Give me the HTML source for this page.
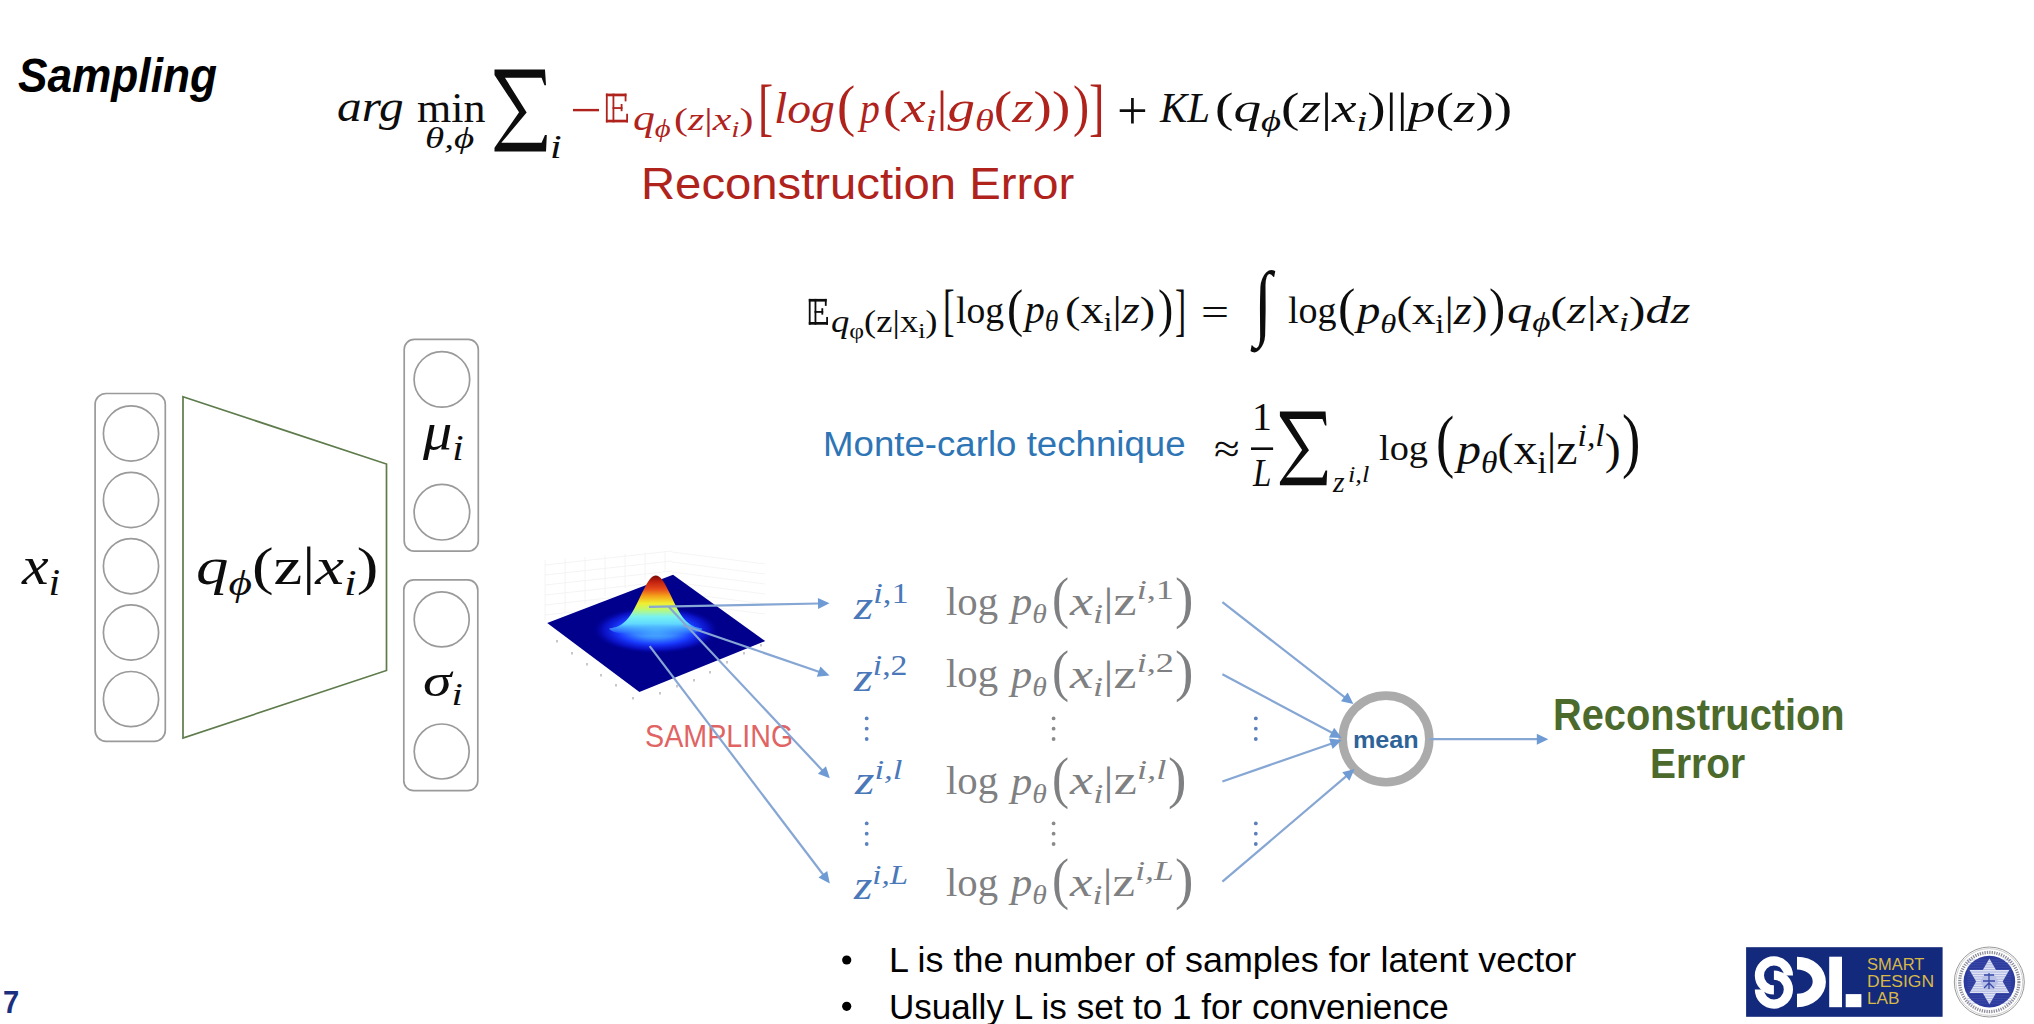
<!DOCTYPE html><html><head><meta charset="utf-8"><title>Sampling</title><style>
html,body{margin:0;padding:0;background:#fff;}
body{width:2034px;height:1024px;position:relative;overflow:hidden;}
.t{position:absolute;white-space:nowrap;line-height:1;transform-origin:0 0;}
.ser{font-family:"Liberation Serif",serif;}
.sans{font-family:"Liberation Sans",sans-serif;}
.b{font-weight:bold;}
.bi{font-weight:bold;font-style:italic;}
.sb{font-size:0.7em;position:relative;top:0.28em;}
.sp{font-size:0.7em;position:relative;top:-0.55em;}
i{font-style:italic;}
.top{z-index:3;}
svg{position:absolute;left:0;top:0;}
</style></head><body>
<div class="t sans bi" id="sampling" style="left:17.8px;top:50.61px;font-size:44px;color:#000;transform:scale(1.0046,1.1099);">Sampling</div>
<div class="t ser" id="e1_arg" style="left:336.88px;top:86.41px;font-size:44px;color:#0d0d0d;transform:scale(1.1210,0.9836);"><i>arg</i></div>
<div class="t ser" id="e1_min" style="left:417px;top:87.24px;font-size:44px;color:#0d0d0d;transform:scale(1.0000,0.9655);">min</div>
<div class="t ser" id="e1_tp" style="left:425.27px;top:123px;font-size:30px;color:#0d0d0d;transform:scale(1.3030,1.0000);"><i>&theta;,&#981;</i></div>
<div class="t ser" id="e1_i" style="left:550.25px;top:130.15px;font-size:30px;color:#0d0d0d;transform:scale(1.3987,1.1009);"><i>i</i></div>
<div class="t ser" id="e1_q" style="left:632.56px;top:100.32px;font-size:30px;color:#b0231c;transform:scale(1.4570,1.1898);"><i>q</i><span class="sb"><i>&#981;</i></span></div>
<div class="t ser" id="e1_sub2" style="left:673.79px;top:103.61px;font-size:30px;color:#b0231c;transform:scale(1.3968,1.0543);">(<i>z</i>|<i>x</i><span class="sb"><i>i</i></span>)</div>
<div class="t ser" id="e1_lb" style="left:758.3px;top:75.17px;font-size:50px;color:#b0231c;transform:scale(0.9106,1.2619);">[</div>
<div class="t ser" id="e1_log" style="left:773.87px;top:87.26px;font-size:44px;color:#b0231c;transform:scale(1.0836,0.9877);"><i>log</i></div>
<div class="t ser" id="e1_bp1" style="left:837.16px;top:77.04px;font-size:50px;color:#b0231c;transform:scale(1.0938,1.1386);">(</div>
<div class="t ser" id="e1_p" style="left:859.74px;top:85.54px;font-size:44px;color:#b0231c;transform:scale(0.9009,1.0303);"><i>p</i></div>
<div class="t ser" id="e1_in" style="left:883.05px;top:85.52px;font-size:44px;color:#b0231c;transform:scale(1.2497,1.0058);">(<i>x</i><span class="sb"><i>i</i></span>|<i>g</i><span class="sb"><i>&theta;</i></span>(<i>z</i>))</div>
<div class="t ser" id="e1_bp2" style="left:1072.63px;top:75.87px;font-size:50px;color:#b0231c;transform:scale(0.9721,1.1572);">)</div>
<div class="t ser" id="e1_rb" style="left:1089.14px;top:75.12px;font-size:50px;color:#b0231c;transform:scale(0.9296,1.2674);">]</div>
<div class="t ser" id="e1_plus" style="left:1116.77px;top:84.24px;font-size:44px;color:#0d0d0d;transform:scale(1.2436,1.2510);">+</div>
<div class="t ser" id="e1_KL" style="left:1160.36px;top:87.72px;font-size:44px;color:#0d0d0d;transform:scale(0.9284,0.9552);"><i>KL</i></div>
<div class="t ser" id="e1_kl2" style="left:1214.76px;top:87.08px;font-size:44px;color:#0d0d0d;transform:scale(1.2558,0.9781);">(<i>q</i><span class="sb"><i>&#981;</i></span>(<i>z</i>|<i>x</i><span class="sb"><i>i</i></span>)||<i>p</i>(<i>z</i>))</div>
<div class="t sans" id="recerr" style="left:640.74px;top:161.3px;font-size:44px;color:#b0231c;transform:scale(1.0738,1.0189);">Reconstruction Error</div>
<div class="t ser" id="e2_sub" style="left:831.46px;top:305.55px;font-size:30px;color:#0d0d0d;transform:scale(1.2210,1.0380);"><i>q</i><span class="sb">&#966;</span>(z|x<span class="sb">i</span>)</div>
<div class="t ser" id="e2_lb" style="left:942.52px;top:282.82px;font-size:44px;color:#0d0d0d;transform:scale(0.7912,1.2842);">[</div>
<div class="t ser" id="e2_log" style="left:956.3px;top:292.67px;font-size:44px;color:#0d0d0d;transform:scale(0.8549,0.8433);">log</div>
<div class="t ser" id="e2_bp1" style="left:1007.02px;top:283.28px;font-size:44px;color:#0d0d0d;transform:scale(1.1034,1.1879);">(</div>
<div class="t ser" id="e2_p" style="left:1024.69px;top:289.19px;font-size:44px;color:#0d0d0d;transform:scale(0.8978,0.9333);"><i>p</i><span class="sb"><i>&theta;</i></span></div>
<div class="t ser" id="e2_in" style="left:1064.94px;top:291.4px;font-size:44px;color:#0d0d0d;transform:scale(1.0507,0.8833);">(x<span class="sb">i</span>|<i>z</i>)</div>
<div class="t ser" id="e2_bp2" style="left:1158.16px;top:283.27px;font-size:44px;color:#0d0d0d;transform:scale(1.0433,1.1885);">)</div>
<div class="t ser" id="e2_rb" style="left:1175.36px;top:282.82px;font-size:44px;color:#0d0d0d;transform:scale(0.7549,1.2842);">]</div>
<div class="t ser" id="e2_eq" style="left:1201px;top:292.95px;font-size:44px;color:#0d0d0d;transform:scale(1.1294,0.9031);">=</div>
<div class="t ser" id="e2_int" style="left:1254.02px;top:260.42px;font-size:60px;color:#0d0d0d;transform:scale(1.0907,1.4034);">&#8747;</div>
<div class="t ser" id="e2_log2" style="left:1288.29px;top:291.89px;font-size:44px;color:#0d0d0d;transform:scale(0.8639,0.8507);">log</div>
<div class="t ser" id="e2_bp3" style="left:1338.26px;top:282.31px;font-size:44px;color:#0d0d0d;transform:scale(1.1864,1.2065);">(</div>
<div class="t ser" id="e2_in2" style="left:1357.4px;top:291.57px;font-size:44px;color:#0d0d0d;transform:scale(1.0609,0.9024);"><i>p</i><span class="sb"><i>&theta;</i></span>(x<span class="sb">i</span>|<i>z</i>)</div>
<div class="t ser" id="e2_bp4" style="left:1489.35px;top:282.48px;font-size:44px;color:#0d0d0d;transform:scale(1.1017,1.1808);">)</div>
<div class="t ser" id="e2_tail" style="left:1506.86px;top:291.67px;font-size:44px;color:#0d0d0d;transform:scale(1.1428,0.8731);"><i>q</i><span class="sb"><i>&#981;</i></span>(<i>z</i>|<i>x</i><span class="sb"><i>i</i></span>)<i>dz</i></div>
<div class="t sans" id="monte" style="left:822.88px;top:427.17px;font-size:38px;color:#2e75b6;transform:scale(0.9642,0.9035);">Monte-carlo technique</div>
<div class="t ser" id="a_apx" style="left:1213.72px;top:429.9px;font-size:44px;color:#0d0d0d;transform:scale(1.0647,0.9005);">&#8776;</div>
<div class="t ser" id="a_one" style="left:1251.81px;top:398.44px;font-size:40px;color:#0d0d0d;transform:scale(0.9949,0.9832);">1</div>
<div class="t ser" id="a_L" style="left:1253.45px;top:453.08px;font-size:40px;color:#0d0d0d;transform:scale(0.8280,0.9885);"><i>L</i></div>
<div class="t ser" id="a_z" style="left:1332.99px;top:468.38px;font-size:30px;color:#0d0d0d;transform:scale(0.9941,0.9656);"><i>z</i></div>
<div class="t ser" id="a_il" style="left:1348.09px;top:463.17px;font-size:24px;color:#0d0d0d;transform:scale(1.1035,0.9557);"><i>i,l</i></div>
<div class="t ser" id="a_log" style="left:1379.23px;top:430px;font-size:44px;color:#0d0d0d;transform:scale(0.8715,0.8308);">log</div>
<div class="t ser" id="a_bp1" style="left:1436px;top:406.38px;font-size:60px;color:#0d0d0d;transform:scale(0.9130,1.1689);">(</div>
<div class="t ser" id="a_in" style="left:1457.08px;top:426.8px;font-size:44px;color:#0d0d0d;transform:scale(1.0895,1.0185);"><i>p</i><span class="sb"><i>&theta;</i></span>(x<span class="sb">i</span>|z<span class="sp"><i>i,l</i></span>)</div>
<div class="t ser" id="a_bp2" style="left:1621.51px;top:405.23px;font-size:60px;color:#0d0d0d;transform:scale(0.9214,1.1871);">)</div>
<div class="t ser" id="xi" style="left:21.61px;top:537.11px;font-size:50px;color:#0d0d0d;transform:scale(1.1969,1.1092);"><i>x</i><span class="sb"><i>i</i></span></div>
<div class="t ser" id="qphi" style="left:196.12px;top:539.5px;font-size:50px;color:#0d0d0d;transform:scale(1.2971,1.0519);"><i>q</i><span class="sb"><i>&#981;</i></span>(z|<i>x</i><span class="sb"><i>i</i></span>)</div>
<div class="t ser" id="mu" style="left:422.58px;top:405.21px;font-size:50px;color:#0d0d0d;transform:scale(1.1677,1.0508);"><i>&mu;</i><span class="sb"><i>i</i></span></div>
<div class="t ser" id="sigma" style="left:423.18px;top:658.37px;font-size:50px;color:#0d0d0d;transform:scale(1.1562,0.9082);"><i>&sigma;</i><span class="sb"><i>i</i></span></div>
<div class="t sans" id="sampl" style="left:644.58px;top:721.46px;font-size:28px;color:#e06464;transform:scale(1.0245,1.1266);">SAMPLING</div>
<div class="t ser" id="z1" style="left:854.49px;top:584px;font-size:40px;color:#4a78b8;transform:scale(1.2320,1.0515);"><i>z</i><span class="sp"><i>i</i>,1</span></div>
<div class="t ser" id="z2" style="left:854.45px;top:657.42px;font-size:40px;color:#4a78b8;transform:scale(1.2051,1.0276);"><i>z</i><span class="sp"><i>i</i>,2</span></div>
<div class="t ser" id="zl" style="left:854.52px;top:760.98px;font-size:40px;color:#4a78b8;transform:scale(1.2462,0.9923);"><i>z</i><span class="sp"><i>i,l</i></span></div>
<div class="t ser" id="zL" style="left:854.43px;top:865.75px;font-size:40px;color:#4a78b8;transform:scale(1.1784,1.0131);"><i>z</i><span class="sp"><i>i,L</i></span></div>
<div class="t ser" id="r1_log" style="left:946.21px;top:582.72px;font-size:44px;color:#7f8082;transform:scale(0.9269,0.8919);">log</div>
<div class="t ser" id="r1_p" style="left:1011.09px;top:582.15px;font-size:44px;color:#7f8082;transform:scale(0.9627,0.9206);"><i>p</i><span class="sb"><i>&theta;</i></span></div>
<div class="t ser" id="r1_bp1" style="left:1052.35px;top:570.13px;font-size:50px;color:#7f8082;transform:scale(1.0233,1.1226);">(</div>
<div class="t ser" id="r1_in" style="left:1070.18px;top:582.03px;font-size:44px;color:#7f8082;transform:scale(1.1807,0.9193);"><i>x</i><span class="sb"><i>i</i></span>|z<span class="sp"><i>i</i>,1</span></div>
<div class="t ser" id="r1_bp2" style="left:1175.26px;top:570.13px;font-size:50px;color:#7f8082;transform:scale(1.1108,1.1226);">)</div>
<div class="t ser" id="r2_log" style="left:946.21px;top:655.47px;font-size:44px;color:#7f8082;transform:scale(0.9269,0.8919);">log</div>
<div class="t ser" id="r2_p" style="left:1011.09px;top:654.98px;font-size:44px;color:#7f8082;transform:scale(0.9627,0.9206);"><i>p</i><span class="sb"><i>&theta;</i></span></div>
<div class="t ser" id="r2_bp1" style="left:1052.35px;top:642.9px;font-size:50px;color:#7f8082;transform:scale(1.0233,1.1226);">(</div>
<div class="t ser" id="r2_in" style="left:1070.18px;top:654.85px;font-size:44px;color:#7f8082;transform:scale(1.1807,0.9193);"><i>x</i><span class="sb"><i>i</i></span>|z<span class="sp"><i>i</i>,2</span></div>
<div class="t ser" id="r2_bp2" style="left:1175.26px;top:642.9px;font-size:50px;color:#7f8082;transform:scale(1.1108,1.1226);">)</div>
<div class="t ser" id="rl_log" style="left:946.21px;top:762.35px;font-size:44px;color:#7f8082;transform:scale(0.9269,0.8919);">log</div>
<div class="t ser" id="rl_p" style="left:1011.09px;top:761.76px;font-size:44px;color:#7f8082;transform:scale(0.9627,0.9206);"><i>p</i><span class="sb"><i>&theta;</i></span></div>
<div class="t ser" id="rl_bp1" style="left:1052.35px;top:749.72px;font-size:50px;color:#7f8082;transform:scale(1.0233,1.1226);">(</div>
<div class="t ser" id="rl_in" style="left:1070.19px;top:762.49px;font-size:44px;color:#7f8082;transform:scale(1.1854,0.9001);"><i>x</i><span class="sb"><i>i</i></span>|z<span class="sp"><i>i,l</i></span></div>
<div class="t ser" id="rl_bp2" style="left:1168.4px;top:749.72px;font-size:50px;color:#7f8082;transform:scale(1.1108,1.1226);">)</div>
<div class="t ser" id="rL_log" style="left:946.21px;top:863.91px;font-size:44px;color:#7f8082;transform:scale(0.9269,0.8919);">log</div>
<div class="t ser" id="rL_p" style="left:1011.09px;top:863.4px;font-size:44px;color:#7f8082;transform:scale(0.9627,0.9206);"><i>p</i><span class="sb"><i>&theta;</i></span></div>
<div class="t ser" id="rL_bp1" style="left:1052.35px;top:851.36px;font-size:50px;color:#7f8082;transform:scale(1.0233,1.1226);">(</div>
<div class="t ser" id="rL_in" style="left:1070.15px;top:863.28px;font-size:44px;color:#7f8082;transform:scale(1.1545,0.9193);"><i>x</i><span class="sb"><i>i</i></span>|z<span class="sp"><i>i,L</i></span></div>
<div class="t ser" id="rL_bp2" style="left:1175.26px;top:851.36px;font-size:50px;color:#7f8082;transform:scale(1.1108,1.1226);">)</div>
<div class="t sans b" id="mean" style="left:1353.33px;top:727.76px;font-size:24px;color:#2e6399;transform:scale(1.0484,0.9771);">mean</div>
<div class="t sans b" id="rec1" style="left:1553.01px;top:691.84px;font-size:40px;color:#4b6a2c;transform:scale(0.9941,1.1218);">Reconstruction</div>
<div class="t sans b" id="rec2" style="left:1650.07px;top:741.43px;font-size:40px;color:#4b6a2c;transform:scale(0.9726,1.0838);">Error</div>
<div class="t sans" id="b1" style="left:888.89px;top:943.32px;font-size:34px;color:#000;transform:scale(1.0559,1.0075);">L is the number of samples for latent vector</div>
<div class="t sans" id="b2" style="left:888.89px;top:989.52px;font-size:34px;color:#000;transform:scale(1.0308,1.0075);">Usually L is set to 1 for convenience</div>
<div class="t sans top" id="lg1" style="left:1867.04px;top:956.15px;font-size:14px;color:#d8b848;transform:scale(1.1754,1.2024);">SMART</div>
<div class="t sans top" id="lg2" style="left:1867.02px;top:972.83px;font-size:14px;color:#d8b848;transform:scale(1.2500,1.1708);">DESIGN</div>
<div class="t sans top" id="lg3" style="left:1867.04px;top:991.08px;font-size:14px;color:#d8b848;transform:scale(1.2245,1.1249);">LAB</div>
<div class="t sans b" id="pnum" style="left:2.77px;top:988.33px;font-size:28px;color:#1b2f7f;transform:scale(1.0423,1.0959);">7</div>
<svg width="2034" height="1024" viewBox="0 0 2034 1024">
<rect x="95.1" y="393.5" width="70.2" height="347.8" rx="11" ry="11" fill="none" stroke="#9a9a9a" stroke-width="1.7"/>
<circle cx="131" cy="433.5" r="27.6" fill="none" stroke="#9a9a9a" stroke-width="1.7"/>
<circle cx="131" cy="500" r="27.6" fill="none" stroke="#9a9a9a" stroke-width="1.7"/>
<circle cx="131" cy="566.2" r="27.6" fill="none" stroke="#9a9a9a" stroke-width="1.7"/>
<circle cx="131" cy="632.5" r="27.6" fill="none" stroke="#9a9a9a" stroke-width="1.7"/>
<circle cx="131" cy="699.1" r="27.6" fill="none" stroke="#9a9a9a" stroke-width="1.7"/>
<polygon points="183,396.8 386.5,464 386.5,670.5 183,738" fill="none" stroke="#5e7b4c" stroke-width="1.7"/>
<rect x="404.2" y="339.4" width="74.1" height="211.7" rx="10" ry="10" fill="none" stroke="#9a9a9a" stroke-width="1.7"/>
<rect x="403.8" y="579.9" width="74" height="210.8" rx="10" ry="10" fill="none" stroke="#9a9a9a" stroke-width="1.7"/>
<circle cx="441.9" cy="379.4" r="27.8" fill="none" stroke="#9a9a9a" stroke-width="1.7"/>
<circle cx="441.9" cy="512.2" r="27.8" fill="none" stroke="#9a9a9a" stroke-width="1.7"/>
<circle cx="441.7" cy="619.4" r="27.5" fill="none" stroke="#9a9a9a" stroke-width="1.7"/>
<circle cx="441.7" cy="751.5" r="27.5" fill="none" stroke="#9a9a9a" stroke-width="1.7"/>
<path d="M494.5,69.6 L544.97,69.6 L546.02,85.14 L544.45,85.14 L541.57,77.78 L504.96,77.78 L526.66,112.55 L501.3,142.81 L541.57,142.81 L544.97,135.04 L546.8,135.04 L546.02,151.4 L494.5,151.4 L494.5,147.72 L519.08,112.14 L494.5,74.92 Z" fill="#0d0d0d"/>
<path d="M1279.9,411.5 L1325.54,411.5 L1326.49,425.52 L1325.07,425.52 L1322.47,418.88 L1289.36,418.88 L1308.99,450.25 L1286.05,477.55 L1322.47,477.55 L1325.54,470.54 L1327.2,470.54 L1326.49,485.3 L1279.9,485.3 L1279.9,481.98 L1302.13,449.88 L1279.9,416.3 Z" fill="#0d0d0d"/>
<rect x="605.9" y="93.6" width="1.8" height="28.8" fill="#b0231c"/>
<rect x="612.53" y="93.6" width="1.8" height="28.8" fill="#b0231c"/>
<rect x="605.9" y="93.6" width="20.55" height="2.7" fill="#b0231c"/>
<rect x="624.65" y="93.6" width="1.8" height="7.78" fill="#b0231c"/>
<rect x="612.53" y="107.14" width="9.95" height="1.8" fill="#b0231c"/>
<rect x="620.68" y="103.97" width="1.8" height="7.2" fill="#b0231c"/>
<rect x="605.9" y="119.7" width="22.1" height="2.7" fill="#b0231c"/>
<rect x="626.2" y="113.76" width="1.8" height="8.64" fill="#b0231c"/>
<rect x="808.8" y="298.9" width="1.8" height="25.8" fill="#0d0d0d"/>
<rect x="814.56" y="298.9" width="1.8" height="25.8" fill="#0d0d0d"/>
<rect x="808.8" y="298.9" width="17.86" height="2.7" fill="#0d0d0d"/>
<rect x="824.86" y="298.9" width="1.8" height="6.97" fill="#0d0d0d"/>
<rect x="814.56" y="311.03" width="8.64" height="1.8" fill="#0d0d0d"/>
<rect x="821.4" y="308.19" width="1.8" height="6.45" fill="#0d0d0d"/>
<rect x="808.8" y="322" width="19.2" height="2.7" fill="#0d0d0d"/>
<rect x="826.2" y="316.96" width="1.8" height="7.74" fill="#0d0d0d"/>
<rect x="573" y="108.9" width="26" height="2.4" fill="#b0231c"/>
<rect x="1251" y="447.4" width="22.1" height="2.6" fill="#0d0d0d"/>
<defs>
<linearGradient id="bump" x1="0" y1="575.5" x2="0" y2="636" gradientUnits="userSpaceOnUse">
<stop offset="0" stop-color="#7a0a08"/>
<stop offset="0.1" stop-color="#c0200f"/>
<stop offset="0.22" stop-color="#e4481a"/>
<stop offset="0.34" stop-color="#f5a21a"/>
<stop offset="0.46" stop-color="#f0ee30"/>
<stop offset="0.56" stop-color="#c0f870"/>
<stop offset="0.68" stop-color="#78f2f0"/>
<stop offset="0.8" stop-color="#60d8ff"/>
<stop offset="0.92" stop-color="#3a90ff" stop-opacity="0.6"/>
<stop offset="1" stop-color="#2050ff" stop-opacity="0"/>
</linearGradient>
<radialGradient id="glow" cx="656" cy="630" r="64" gradientUnits="userSpaceOnUse" gradientTransform="translate(656 630) scale(1 0.375) translate(-656 -630)">
<stop offset="0" stop-color="#58d0ff"/>
<stop offset="0.35" stop-color="#3a8cff"/>
<stop offset="0.6" stop-color="#1a3cff"/>
<stop offset="0.82" stop-color="#0c14d0" stop-opacity="0.8"/>
<stop offset="1" stop-color="#00008f" stop-opacity="0"/>
</radialGradient>
</defs>
<line x1="545" y1="560.0" x2="545" y2="620" stroke="#f1f1f1" stroke-width="0.8"/>
<line x1="565" y1="558.5" x2="565" y2="612" stroke="#f1f1f1" stroke-width="0.8"/>
<line x1="585" y1="557.0" x2="585" y2="604" stroke="#f1f1f1" stroke-width="0.8"/>
<line x1="605" y1="555.5" x2="605" y2="596" stroke="#f1f1f1" stroke-width="0.8"/>
<line x1="625" y1="554.0" x2="625" y2="588" stroke="#f1f1f1" stroke-width="0.8"/>
<line x1="645" y1="552.5" x2="645" y2="580" stroke="#f1f1f1" stroke-width="0.8"/>
<line x1="665" y1="551.0" x2="665" y2="572" stroke="#f1f1f1" stroke-width="0.8"/>
<line x1="545" y1="565" x2="672" y2="551" stroke="#f1f1f1" stroke-width="0.8"/>
<line x1="545" y1="575" x2="672" y2="561" stroke="#f1f1f1" stroke-width="0.8"/>
<line x1="545" y1="585" x2="672" y2="571" stroke="#f1f1f1" stroke-width="0.8"/>
<line x1="545" y1="595" x2="672" y2="581" stroke="#f1f1f1" stroke-width="0.8"/>
<line x1="545" y1="605" x2="672" y2="591" stroke="#f1f1f1" stroke-width="0.8"/>
<line x1="545" y1="615" x2="672" y2="601" stroke="#f1f1f1" stroke-width="0.8"/>
<line x1="672" y1="552" x2="765" y2="564" stroke="#f1f1f1" stroke-width="0.8"/>
<line x1="672" y1="562" x2="765" y2="574" stroke="#f1f1f1" stroke-width="0.8"/>
<line x1="672" y1="572" x2="765" y2="584" stroke="#f1f1f1" stroke-width="0.8"/>
<line x1="672" y1="582" x2="765" y2="594" stroke="#f1f1f1" stroke-width="0.8"/>
<line x1="672" y1="592" x2="765" y2="604" stroke="#f1f1f1" stroke-width="0.8"/>
<line x1="672" y1="602" x2="765" y2="614" stroke="#f1f1f1" stroke-width="0.8"/>
<polygon points="547.2,623.1 673,574.7 765.2,641.1 639.4,691.9" fill="#00008c"/>
<ellipse cx="656" cy="630" rx="64" ry="24" fill="url(#glow)"/>
<path d="M609.3,628.41 L610.85,628.2 L612.4,627.94 L613.95,627.6 L615.5,627.18 L617.05,626.65 L618.6,626 L620.15,625.2 L621.7,624.24 L623.25,623.1 L624.8,621.76 L626.35,620.2 L627.9,618.41 L629.45,616.39 L631,614.13 L632.55,611.63 L634.1,608.92 L635.65,606.02 L637.2,602.96 L638.75,599.79 L640.3,596.55 L641.85,593.32 L643.4,590.15 L644.95,587.13 L646.5,584.31 L648.05,581.79 L649.6,579.61 L651.15,577.85 L652.7,576.56 L654.25,575.77 L655.8,575.5 L657.35,575.77 L658.9,576.56 L660.45,577.85 L662,579.61 L663.55,581.79 L665.1,584.31 L666.65,587.13 L668.2,590.15 L669.75,593.32 L671.3,596.55 L672.85,599.79 L674.4,602.96 L675.95,606.02 L677.5,608.92 L679.05,611.63 L680.6,614.13 L682.15,616.39 L683.7,618.41 L685.25,620.2 L686.8,621.76 L688.35,623.1 L689.9,624.24 L691.45,625.2 L693,626 L694.55,626.65 L696.1,627.18 L697.65,627.6 L699.2,627.94 L700.75,628.2 L702.3,628.41 A46.5,7 0 0 1 609.3,629 Z" fill="url(#bump)"/>
<rect x="556" y="640" width="2" height="2.5" fill="#c8c8c8"/>
<rect x="571" y="652" width="2" height="2.5" fill="#c8c8c8"/>
<rect x="586" y="663" width="2" height="2.5" fill="#c8c8c8"/>
<rect x="600" y="674" width="2" height="2.5" fill="#c8c8c8"/>
<rect x="615" y="684" width="2" height="2.5" fill="#c8c8c8"/>
<rect x="632" y="697" width="2" height="2.5" fill="#c8c8c8"/>
<rect x="659" y="692" width="2" height="2.5" fill="#c8c8c8"/>
<rect x="676" y="685" width="2" height="2.5" fill="#c8c8c8"/>
<rect x="693" y="679" width="2" height="2.5" fill="#c8c8c8"/>
<rect x="709" y="671" width="2" height="2.5" fill="#c8c8c8"/>
<rect x="726" y="661" width="2" height="2.5" fill="#c8c8c8"/>
<rect x="743" y="652" width="2" height="2.5" fill="#c8c8c8"/>
<rect x="760" y="644" width="2" height="2.5" fill="#c8c8c8"/>
<circle cx="866.7" cy="718.4" r="1.9" fill="#5b82bf"/>
<circle cx="866.7" cy="728.7" r="1.9" fill="#5b82bf"/>
<circle cx="866.7" cy="739" r="1.9" fill="#5b82bf"/>
<circle cx="866.7" cy="823.4" r="1.9" fill="#5b82bf"/>
<circle cx="866.7" cy="833.7" r="1.9" fill="#5b82bf"/>
<circle cx="866.7" cy="844" r="1.9" fill="#5b82bf"/>
<circle cx="1053.6" cy="718.4" r="1.9" fill="#8a8a8a"/>
<circle cx="1053.6" cy="728.7" r="1.9" fill="#8a8a8a"/>
<circle cx="1053.6" cy="739" r="1.9" fill="#8a8a8a"/>
<circle cx="1053.6" cy="823.4" r="1.9" fill="#8a8a8a"/>
<circle cx="1053.6" cy="833.7" r="1.9" fill="#8a8a8a"/>
<circle cx="1053.6" cy="844" r="1.9" fill="#8a8a8a"/>
<circle cx="1255.8" cy="718.4" r="1.9" fill="#5b7fb8"/>
<circle cx="1255.8" cy="728.7" r="1.9" fill="#5b7fb8"/>
<circle cx="1255.8" cy="739" r="1.9" fill="#5b7fb8"/>
<circle cx="1255.8" cy="823.4" r="1.9" fill="#5b7fb8"/>
<circle cx="1255.8" cy="833.7" r="1.9" fill="#5b7fb8"/>
<circle cx="1255.8" cy="844" r="1.9" fill="#5b7fb8"/>
<circle cx="1386" cy="738.9" r="43.3" fill="none" stroke="#ababab" stroke-width="8.6"/>
<circle cx="846.7" cy="960" r="4.6" fill="#000"/>
<circle cx="846.7" cy="1006.3" r="4.6" fill="#000"/>
<rect x="1746.1" y="947.2" width="196.5" height="69.6" fill="#13297b"/>
<path d="M1788.4,975.4 A14.5,14.5 0 1 0 1773.9,989.9" fill="none" stroke="#fff" stroke-width="9.2"/>
<path d="M1773.9,975.1 A14.5,14.5 0 1 1 1759.4,989.6" fill="none" stroke="#fff" stroke-width="9.2"/>
<path d="M1797,956.7 A28.9,25.25 0 0 1 1797,1007.2 Z M1797,969.5 A15.7,12.1 0 0 1 1797,993.7 Z" fill="#fff" fill-rule="evenodd"/>
<rect x="1829.2" y="956.7" width="12.8" height="50.5" fill="#fff"/>
<rect x="1845.7" y="994.1" width="15.7" height="13.1" fill="#fff"/>
<circle cx="1989.3" cy="982" r="35" fill="#fff" stroke="#9a9a9a" stroke-width="1"/>
<circle cx="1989.3" cy="982" r="33.4" fill="none" stroke="#b0b0b0" stroke-width="0.6"/>
<circle cx="1989.3" cy="982" r="29.6" fill="none" stroke="#6a6a7a" stroke-width="3.2" stroke-dasharray="1.3 1.1" opacity="0.75"/>
<circle cx="1989.4" cy="981.6" r="25.8" fill="#2b3a9c"/>
<polygon points="1989.4,958.6 2009.32,993.1 1969.48,993.1" fill="#dfe3f4"/>
<polygon points="1989.4,1004.6 1969.48,970.1 2009.32,970.1" fill="#dfe3f4"/>
<line x1="1967.4" y1="960" x2="2011.4" y2="960" stroke="#5d6cc0" stroke-width="0.7" opacity="0.55"/>
<line x1="1967.4" y1="962.4" x2="2011.4" y2="962.4" stroke="#5d6cc0" stroke-width="0.7" opacity="0.55"/>
<line x1="1967.4" y1="964.8" x2="2011.4" y2="964.8" stroke="#5d6cc0" stroke-width="0.7" opacity="0.55"/>
<line x1="1967.4" y1="967.2" x2="2011.4" y2="967.2" stroke="#5d6cc0" stroke-width="0.7" opacity="0.55"/>
<line x1="1967.4" y1="969.6" x2="2011.4" y2="969.6" stroke="#5d6cc0" stroke-width="0.7" opacity="0.55"/>
<line x1="1967.4" y1="972" x2="2011.4" y2="972" stroke="#5d6cc0" stroke-width="0.7" opacity="0.55"/>
<line x1="1967.4" y1="974.4" x2="2011.4" y2="974.4" stroke="#5d6cc0" stroke-width="0.7" opacity="0.55"/>
<line x1="1967.4" y1="976.8" x2="2011.4" y2="976.8" stroke="#5d6cc0" stroke-width="0.7" opacity="0.55"/>
<line x1="1967.4" y1="979.2" x2="2011.4" y2="979.2" stroke="#5d6cc0" stroke-width="0.7" opacity="0.55"/>
<line x1="1967.4" y1="981.6" x2="2011.4" y2="981.6" stroke="#5d6cc0" stroke-width="0.7" opacity="0.55"/>
<line x1="1967.4" y1="984" x2="2011.4" y2="984" stroke="#5d6cc0" stroke-width="0.7" opacity="0.55"/>
<line x1="1967.4" y1="986.4" x2="2011.4" y2="986.4" stroke="#5d6cc0" stroke-width="0.7" opacity="0.55"/>
<line x1="1967.4" y1="988.8" x2="2011.4" y2="988.8" stroke="#5d6cc0" stroke-width="0.7" opacity="0.55"/>
<line x1="1967.4" y1="991.2" x2="2011.4" y2="991.2" stroke="#5d6cc0" stroke-width="0.7" opacity="0.55"/>
<line x1="1967.4" y1="993.6" x2="2011.4" y2="993.6" stroke="#5d6cc0" stroke-width="0.7" opacity="0.55"/>
<line x1="1967.4" y1="996" x2="2011.4" y2="996" stroke="#5d6cc0" stroke-width="0.7" opacity="0.55"/>
<line x1="1967.4" y1="998.4" x2="2011.4" y2="998.4" stroke="#5d6cc0" stroke-width="0.7" opacity="0.55"/>
<line x1="1967.4" y1="1000.8" x2="2011.4" y2="1000.8" stroke="#5d6cc0" stroke-width="0.7" opacity="0.55"/>
<line x1="1967.4" y1="1003.2" x2="2011.4" y2="1003.2" stroke="#5d6cc0" stroke-width="0.7" opacity="0.55"/>
<polygon points="1998.4,981.6 1993.9,989.39 1984.9,989.39 1980.4,981.6 1984.9,973.81 1993.9,973.81" fill="#b7bfe6"/>
<path d="M1984,975 h10 M1983,981 h12 M1989,973 v16 M1984,988 l5,-5 l5,5" stroke="#3a4aa8" stroke-width="1.3" fill="none"/>
<line x1="649" y1="606.8" x2="819" y2="603.5" stroke="#86a6d4" stroke-width="2.2"/><polygon points="829.5,603.3 818.11,609.02 817.9,598.02" fill="#6e9bd4"/>
<line x1="683.3" y1="625.2" x2="819.57" y2="671.99" stroke="#86a6d4" stroke-width="2.2"/><polygon points="829.5,675.4 816.84,676.87 820.41,666.46" fill="#6e9bd4"/>
<line x1="668.7" y1="606.8" x2="822.61" y2="770.65" stroke="#86a6d4" stroke-width="2.2"/><polygon points="829.8,778.3 817.92,773.68 825.94,766.15" fill="#6e9bd4"/>
<line x1="649.7" y1="646.2" x2="823.45" y2="875.04" stroke="#86a6d4" stroke-width="2.2"/><polygon points="829.8,883.4 818.47,877.57 827.23,870.91" fill="#6e9bd4"/>
<line x1="1222.4" y1="602.2" x2="1345.11" y2="697.56" stroke="#86a6d4" stroke-width="2.2"/><polygon points="1353.4,704 1340.94,701.29 1347.69,692.6" fill="#6e9bd4"/>
<line x1="1222.4" y1="674.3" x2="1332.44" y2="733.05" stroke="#86a6d4" stroke-width="2.2"/><polygon points="1341.7,738 1328.96,737.44 1334.15,727.73" fill="#6e9bd4"/>
<line x1="1222.4" y1="781.5" x2="1331.78" y2="743.45" stroke="#86a6d4" stroke-width="2.2"/><polygon points="1341.7,740 1332.65,748.97 1329.03,738.58" fill="#6e9bd4"/>
<line x1="1222.4" y1="881.7" x2="1346.61" y2="775.91" stroke="#86a6d4" stroke-width="2.2"/><polygon points="1354.6,769.1 1349.41,780.74 1342.28,772.37" fill="#6e9bd4"/>
<line x1="1429.6" y1="739.2" x2="1537.8" y2="739.2" stroke="#86a6d4" stroke-width="2.2"/><polygon points="1548.3,739.2 1536.8,744.7 1536.8,733.7" fill="#6e9bd4"/>
</svg>
</body></html>
